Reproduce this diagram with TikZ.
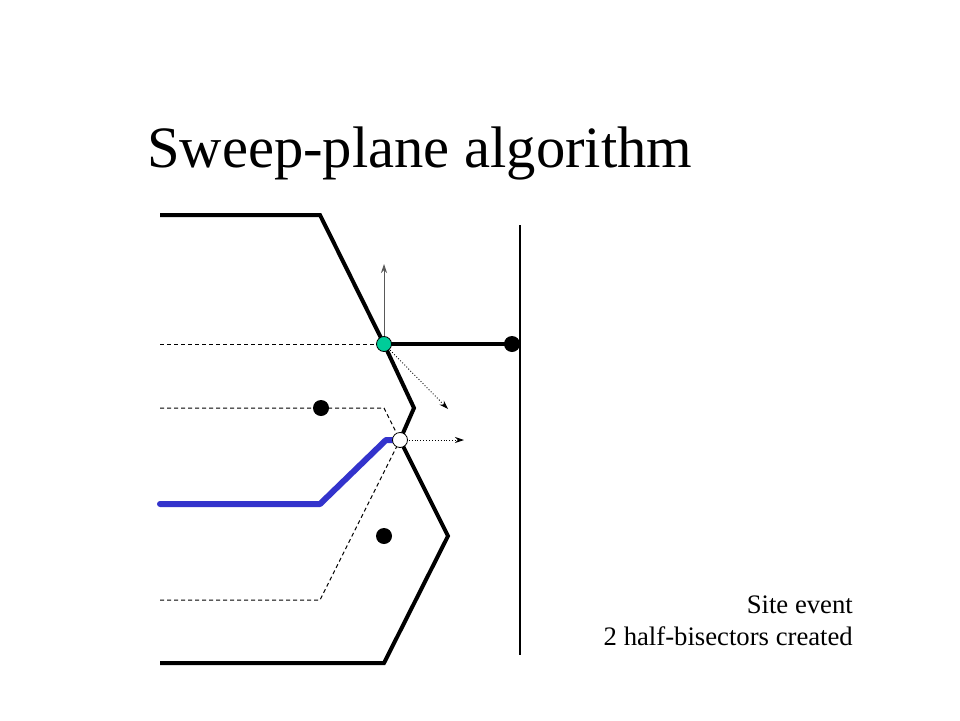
\documentclass[tikz,border=0pt]{standalone}
\usepackage{fontspec}
\setmainfont{Liberation Serif}
\usetikzlibrary{arrows.meta}
\definecolor{sitegreen}{RGB}{0,204,153}
\definecolor{beachblue}{RGB}{51,51,204}
\tikzset{
  edge/.style={line width=4pt, line join=miter},
  beach/.style={line width=6pt, beachblue, line join=round, line cap=round},
  trace/.style={line width=1pt, dash pattern=on 4pt off 3pt},
  site/.style={circle, fill=black, inner sep=0pt, minimum size=16pt},
  vertexnode/.style={circle, draw=black, line width=0.8pt, inner sep=0pt, minimum size=15pt},
  dirarrow/.style={line width=0.9pt, dotted, -{Stealth[length=9pt,width=6pt]}},
}
\begin{document}
\begin{tikzpicture}[x=1pt,y=-1pt]
\useasboundingbox (0,0) rectangle (960,720);
% title
\node[anchor=base west, inner sep=0pt, font=\fontsize{58.6}{70}\selectfont] (title) at (147,167) {Sweep-plane algorithm};
% coordinates
\coordinate (t0) at (160,215);
\coordinate (t1) at (320,215);
\coordinate (m1) at (414,408);
\coordinate (b1) at (448,536);
\coordinate (b2) at (384,663);
\coordinate (b3) at (160,663);
\coordinate (d1a) at (160,344);
\coordinate (d2a) at (160,408);
\coordinate (d2b) at (384,408);
\coordinate (d3a) at (160,600);
\coordinate (d3b) at (320,600);
\coordinate (bl0) at (160,504);
\coordinate (bl1) at (320,504);
\coordinate (bl2) at (386,440);
\coordinate (sw0) at (520,225);
\coordinate (sw1) at (520,655);
\coordinate (up) at (384,264);
\coordinate (diag) at (448,409);
\coordinate (right) at (464,440);
% nodes
\node[site] (s1) at (512,344) {};
\node[site] (s2) at (321,408) {};
\node[site] (s3) at (384,536) {};
% sweep line
\draw[line width=1.5pt] (sw0) -- (sw1);
% dashed traces
\draw[trace] (d1a) -- (384,344);
\draw[trace] (d2a) -- (d2b) -- (400,440);
\draw[trace] (d3a) -- (d3b) -- (400,440);
% blue beach line
\draw[beach] (bl0) -- (bl1) -- (bl2) -- (400,440);
% black edges
\draw[edge] (t0) -- (t1) -- (384,344) -- (m1) -- (400,440) -- (b1) -- (b2) -- (b3);
\draw[edge] (384,344) -- (s1.center);
% arrows
\draw[line width=0.9pt, gray!70!black, -{Stealth[length=9pt,width=6pt]}] (384,344) -- (up);
\draw[dirarrow] (384,344) -- (diag);
\draw[dirarrow] (400,440) -- (right);
% vertices
\node[vertexnode, fill=sitegreen] (v1) at (384,344) {};
\node[vertexnode, fill=white] (v2) at (400,440) {};
% caption
\node[anchor=base east, inner sep=0pt, font=\fontsize{26.7}{32}\selectfont] (cap1) at (853,613) {Site event};
\node[anchor=base east, inner sep=0pt, font=\fontsize{26.7}{32}\selectfont] (cap2) at (853,645) {2 half-bisectors created};
\end{tikzpicture}
\end{document}
